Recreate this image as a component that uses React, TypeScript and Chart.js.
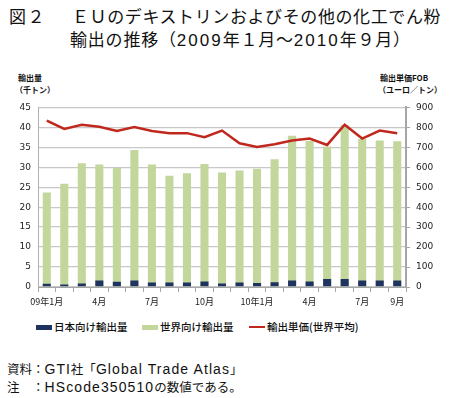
import React, { useEffect, useRef } from "react";
import { Chart, registerables } from "chart.js";
Chart.register(...registerables);

const months = [
  "09年1月", "09年2月", "09年3月", "09年4月", "09年5月", "09年6月", "09年7月",
  "09年8月", "09年9月", "09年10月", "09年11月", "09年12月", "10年1月", "10年2月",
  "10年3月", "10年4月", "10年5月", "10年6月", "10年7月", "10年8月", "10年9月",
];
const tickLabels = [
  "09年1月", "", "", "4月", "", "", "7月", "", "", "10月", "", "",
  "10年1月", "", "", "4月", "", "", "7月", "", "9月",
];
const japanExports = [0.8, 0.6, 0.9, 1.6, 1.3, 1.6, 1.1, 1.1, 1.1, 1.4, 0.9, 1.1, 1.0, 1.2, 1.6, 1.4, 2.0, 2.0, 1.6, 1.6, 1.6];
const worldExports = [23.7, 25.9, 31.0, 30.7, 29.8, 34.3, 30.7, 27.9, 28.5, 30.8, 28.7, 29.2, 29.6, 32.0, 37.9, 36.6, 35.2, 40.6, 37.1, 36.7, 36.5];
const unitPrice = [834, 792, 813, 803, 782, 802, 782, 771, 771, 751, 784, 720, 702, 715, 734, 744, 712, 813, 744, 784, 771];

const NAVY = "#1f3361";
const GREEN = "#c3d69b";
const RED = "#c0281e";
const JP = "'Noto Sans CJK JP', sans-serif";
const LAT = "'Liberation Sans', 'Noto Sans CJK JP', sans-serif";

export default function App() {
  const ref = useRef<HTMLCanvasElement | null>(null);
  useEffect(() => {
    if (!ref.current) return;
    const chart = new Chart(ref.current, {
      type: "bar",
      data: {
        labels: months,
        datasets: [
          {
            type: "bar",
            label: "日本向け輸出量",
            data: japanExports,
            backgroundColor: NAVY,
            yAxisID: "y",
            order: 1,
            grouped: false,
            barPercentage: 0.46,
            categoryPercentage: 1,
          },
          {
            type: "bar",
            label: "世界向け輸出量",
            data: worldExports,
            backgroundColor: GREEN,
            yAxisID: "y",
            order: 2,
            grouped: false,
            barPercentage: 0.46,
            categoryPercentage: 1,
          },
          {
            type: "line",
            label: "輸出単価(世界平均)",
            data: unitPrice,
            borderColor: RED,
            backgroundColor: RED,
            borderWidth: 2.5,
            pointRadius: 0,
            tension: 0,
            yAxisID: "y1",
            order: 0,
          } as any,
        ],
      },
      options: {
        responsive: false,
        animation: false,
        devicePixelRatio: 1,
        layout: { padding: { top: 9, bottom: 0, left: 0, right: 0 } },
        plugins: {
          legend: { display: false },
          tooltip: { enabled: false },
        },
        scales: {
          x: {
            offset: true,
            grid: {
              offset: true,
              drawOnChartArea: false,
              drawTicks: true,
              tickLength: 5,
              color: "#a6a6a6",
            },
            border: { color: "#a6a6a6", width: 1 },
            ticks: {
              autoSkip: false,
              maxRotation: 0,
              minRotation: 0,
              padding: 4,
              color: "#222",
              font: { family: JP, size: 9 },
              callback: (_v: any, i: number) => tickLabels[i],
            },
            afterFit: (s: any) => {
              s.height = 29;
            },
          },
          y: {
            position: "left",
            min: 0,
            max: 45,
            ticks: {
              stepSize: 5,
              padding: 7,
              color: "#222",
              font: { family: "'DejaVu Sans', sans-serif", size: 9 },
            },
            grid: { color: "#c8c8c8", lineWidth: 1.3, drawTicks: false },
            border: { color: "#b0b0b0", width: 1 },
            afterFit: (s: any) => {
              s.width = 38;
            },
          },
          y1: {
            position: "right",
            min: 0,
            max: 900,
            ticks: {
              stepSize: 100,
              padding: 6,
              color: "#222",
              font: { family: "'DejaVu Sans', sans-serif", size: 9 },
            },
            grid: {
              drawOnChartArea: false,
              drawTicks: true,
              tickLength: 4,
              color: "#a6a6a6",
            },
            border: { color: "#a6a6a6", width: 2 },
            afterFit: (s: any) => {
              s.width = 45;
            },
          },
        },
      } as any,
    });
    return () => chart.destroy();
  }, []);

  const abs = (left: number, top: number, extra: any = {}) => ({
    position: "absolute" as const,
    left,
    top,
    whiteSpace: "nowrap" as const,
    ...extra,
  });
  const lat = (t: string, ls: number, fs?: number) => (
    <span style={{ fontFamily: LAT, letterSpacing: ls, fontSize: fs }}>{t}</span>
  );

  return (
    <div
      style={{
        position: "absolute",
        left: 0,
        top: 0,
        width: 451,
        height: 398,
        background: "#fff",
        fontFamily: JP,
        color: "#111",
      }}
    >
      <div style={abs(9, 3, { fontSize: 17, lineHeight: "26px", letterSpacing: 1.5 })}>図２</div>
      <div style={abs(72, 3, { fontSize: 17, lineHeight: "26px", letterSpacing: 0.6 })}>
        ＥＵのデキストリンおよびその他の化工でん粉
      </div>
      <div style={abs(70, 26, { fontSize: 17, lineHeight: "26px", letterSpacing: 0.8 })}>
        輸出の推移（{lat("2009", 2)}年１月～{lat("2010", 2)}年９月）
      </div>

      <div style={abs(18, 72, { fontSize: 8, lineHeight: "12px", fontWeight: 700 })}>輸出量</div>
      <div style={abs(15, 84, { fontSize: 8, lineHeight: "12px", fontWeight: 700 })}>（千トン）</div>
      <div style={abs(380, 72, { fontSize: 8, lineHeight: "12px", fontWeight: 700 })}>輸出単価FOB</div>
      <div style={abs(378, 84, { fontSize: 8, lineHeight: "12px", fontWeight: 700 })}>（ユーロ／トン）</div>

      <canvas ref={ref} width={451} height={221} style={{ position: "absolute", left: 0, top: 95, width: 451, height: 221 }} />

      <div style={abs(36, 325, { width: 16, height: 5, background: NAVY })} />
      <div style={abs(54, 320, { fontSize: 10.5, lineHeight: "14px", fontWeight: 500 })}>日本向け輸出量</div>
      <div style={abs(142, 325, { width: 16, height: 5, background: GREEN })} />
      <div style={abs(160, 320, { fontSize: 10.5, lineHeight: "14px", fontWeight: 500 })}>世界向け輸出量</div>
      <div style={abs(249, 326, { width: 16, height: 2, background: RED })} />
      <div style={abs(267, 320, { fontSize: 10.5, lineHeight: "14px", fontWeight: 500 })}>輸出単価(世界平均)</div>

      <div style={abs(7, 360, { fontSize: 12.5, lineHeight: "18px" })}>
        資料：{lat("GTI", 1, 14)}社「{lat("Global Trade Atlas", 1.1, 14)}」
      </div>
      <div style={abs(7, 378, { fontSize: 12.5, lineHeight: "18px" })}>
        注　：{lat("HScode350510", 1.1, 14)}の数値である。
      </div>
    </div>
  );
}
